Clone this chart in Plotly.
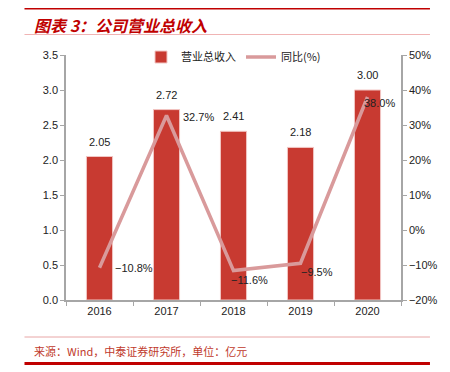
import plotly.graph_objects as go

years = ["2016", "2017", "2018", "2019", "2020"]
revenue = [2.05, 2.72, 2.41, 2.18, 3.00]
yoy = [-10.8, 32.7, -11.6, -9.5, 38.0]
yoy_labels = ["−10.8%", "32.7%", "−11.6%", "−9.5%", "38.0%"]
# label offsets (px) for the yoy labels
yoy_xshift = [13, 14, -5, -2, -6]
yoy_yshift = [0, -1, -9, -9, -6]

BAR = "#C83A31"
LINE = "#D99A9B"
RED = "#C00000"
TXT = "#222222"
AX = "#A6A6A6"
FONT = "Liberation Sans, Arial, sans-serif"
CJK = "Noto Sans CJK SC"

fig = go.Figure()
fig.add_trace(go.Bar(
    x=years, y=revenue, name="营业总收入",
    marker=dict(color=BAR, line=dict(color="#F2C6C4", width=1)),
    yaxis="y",
))
fig.add_trace(go.Scatter(
    x=years, y=yoy, name="同比(%)", mode="lines",
    line=dict(color=LINE, width=3.5),
    yaxis="y2",
))

annotations = []
for i, v in enumerate(revenue):
    annotations.append(dict(x=i, y=v, xref="x", yref="y", text=f"{v:.2f}",
                            showarrow=False, yanchor="bottom", yshift=7,
                            font=dict(size=11, color=TXT, family=FONT)))
for i, (v, t, xs, ys) in enumerate(zip(yoy, yoy_labels, yoy_xshift, yoy_yshift)):
    annotations.append(dict(x=i, y=v, xref="x", yref="y2", text=t,
                            showarrow=False, xanchor="left", yanchor="middle",
                            xshift=xs, yshift=ys,
                            font=dict(size=11, color=TXT, family=FONT)))

# page has an 8px body margin: window pixel -> paper coords
def py(pix):
    return (300 - pix) / 245.0

def px(pix):
    return (pix - 66) / 347.0

annotations.append(dict(x=px(31), y=py(25), xref="paper", yref="paper",
                        text="<b><i>图表 3：公司营业总收入</i></b>", showarrow=False,
                        xanchor="left", yanchor="middle",
                        font=dict(size=16, color=RED, family=CJK)))
annotations.append(dict(x=px(31), y=py(351), xref="paper", yref="paper",
                        text="来源：Wind，中泰证券研究所，单位：亿元", showarrow=False,
                        xanchor="left", yanchor="middle",
                        font=dict(size=11, color="#C0392B", family=CJK)))

shapes = [
    dict(type="line", xref="paper", yref="paper", x0=px(23), x1=px(443),
         y0=py(8), y1=py(8), line=dict(color=RED, width=3)),
    dict(type="line", xref="paper", yref="paper", x0=px(23), x1=px(443),
         y0=py(34.5), y1=py(34.5), line=dict(color="#F0B4B4", width=1)),
    dict(type="line", xref="paper", yref="paper", x0=px(23), x1=px(443),
         y0=py(337), y1=py(337), line=dict(color="#E8A6A6", width=1)),
    dict(type="line", xref="paper", yref="paper", x0=px(23), x1=px(443),
         y0=py(363.5), y1=py(363.5), line=dict(color=RED, width=3)),
]

fig.update_layout(
    width=442, height=364,
    margin=dict(l=58, r=37, t=47, b=72),
    paper_bgcolor="white", plot_bgcolor="white",
    bargap=0.61,
    showlegend=True,
    legend=dict(orientation="h", x=0.5, xanchor="center", y=py(57), yanchor="middle",
                font=dict(size=11, color=TXT, family=CJK), bgcolor="rgba(0,0,0,0)",
                itemwidth=30, tracegroupgap=0),
    xaxis=dict(type="category", range=[-0.5, 4.5], showline=True, linecolor=AX,
               linewidth=1.5, ticks="outside", tickson="boundaries", ticklen=4,
               tickcolor=AX, tickfont=dict(size=11, color=TXT, family=FONT),
               showgrid=False),
    yaxis=dict(range=[0, 3.5], dtick=0.5, tickformat=".1f", showline=True,
               linecolor=AX, linewidth=1.5, ticks="outside", ticklen=4, tickcolor=AX,
               tickfont=dict(size=11, color=TXT, family=FONT), showgrid=False,
               zeroline=False),
    yaxis2=dict(range=[-20, 50], dtick=10, ticksuffix="%", overlaying="y", side="right",
                showline=True, linecolor=AX, linewidth=1.5, ticks="outside", ticklen=4,
                tickcolor=AX, tickfont=dict(size=11, color=TXT, family=FONT),
                showgrid=False, zeroline=False),
    annotations=annotations,
    shapes=shapes,
)

fig.write_html("out.html")
